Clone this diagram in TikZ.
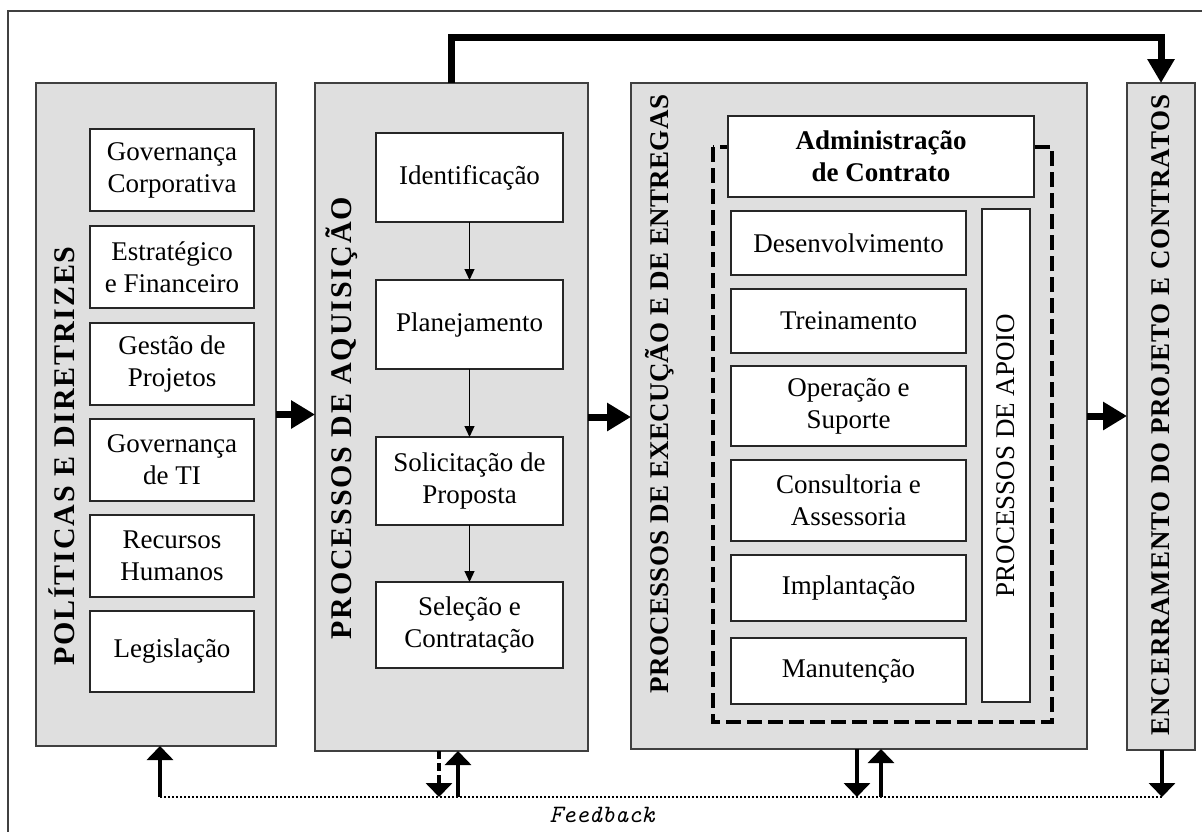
\documentclass[tikz,border=0pt]{standalone}
\usepackage{fontspec}
\setmainfont{Liberation Serif}
\usetikzlibrary{arrows.meta}
\definecolor{panelgray}{HTML}{DFDFDF}
\definecolor{edgegray}{HTML}{404040}
\newcommand\dgboxfont{\fontsize{27}{32}\selectfont}
\newcommand\dglabelA{\bfseries\fontsize{30}{32}\selectfont\addfontfeature{LetterSpace=6}}
\newcommand\dglabelB{\bfseries\fontsize{27}{30}\selectfont\addfontfeature{LetterSpace=3}}
\newcommand\dglabelD{\bfseries\fontsize{27}{30}\selectfont\addfontfeature{LetterSpace=1}}
\newcommand\rectnode[7]{\node[#1, minimum width={(#5-#3)*1pt}, minimum height={(#6-#4)*1pt}] (#2) at ({(#3+#5)/2},{(#4+#6)/2}) {#7};}
\tikzset{
  panel/.style={draw=edgegray, line width=1.5pt, fill=panelgray, inner sep=0pt, outer sep=0pt},
  ibox/.style={draw=black!85, line width=1.3pt, fill=white, inner sep=0pt, outer sep=0pt, align=center, font=\dgboxfont},
  bbox/.style={ibox, font=\dgboxfont\bfseries},
  vlabA/.style={rotate=90, inner sep=0pt, font=\dglabelA},
  vlabB/.style={rotate=90, inner sep=0pt, font=\dglabelB},
  vlabD/.style={rotate=90, inner sep=0pt, font=\dglabelD},
  vlabC/.style={rotate=90, inner sep=0pt, font=\dgboxfont},
  bigarrow/.style={line width=7pt, -{Triangle[length=24pt,width=27pt]}},
  toparrow/.style={line width=7pt, line join=miter, -{Triangle[length=24pt,width=26pt]}},
  thinarrow/.style={line width=1.2pt, -{Triangle[length=11pt,width=10pt]}},
  botarrow/.style={line width=4pt, -{Triangle[length=14pt,width=26pt]}},
  dashshaft/.style={dash pattern=on 8pt off 4pt},
  dotline/.style={line width=1.5pt, dash pattern=on 2pt off 2pt},
  dashbox/.style={line width=4pt, dash pattern=on 15pt off 6pt},
  frameline/.style={draw=edgegray, line width=1.5pt}
}
\begin{document}
\begin{tikzpicture}[x=1pt,y=-1pt]
\path[use as bounding box] (0,0) rectangle (1202,831);
\draw[frameline] (8,840) -- (8,11) -- (1210,11);

% panels
\rectnode{panel}{p1}{36}{83}{276}{746}{}
\rectnode{panel}{p2}{315}{83}{588}{751}{}
\rectnode{panel}{p3}{631}{83}{1087}{749}{}
\rectnode{panel}{p4}{1127}{83}{1195}{750}{}

% vertical labels
\node[vlabA] (l1) at (62,456) {POLÍTICAS E DIRETRIZES};
\node[vlabA] (l2) at (342,418) {PROCESSOS DE AQUISIÇÃO};
\node[vlabD] (l3) at (660,394) {PROCESSOS DE EXECUÇÃO E DE ENTREGAS};
\node[vlabB] (l4) at (1161,415) {ENCERRAMENTO DO PROJETO E CONTRATOS};

% panel 1 boxes
\rectnode{ibox}{gc}{90}{129}{254}{211}{Governança\\Corporativa}
\rectnode{ibox}{ef}{90}{226}{254}{308}{Estratégico\\e Financeiro}
\rectnode{ibox}{gp}{90}{323}{254}{405}{Gestão de\\Projetos}
\rectnode{ibox}{gt}{90}{419}{254}{501}{Governança\\de TI}
\rectnode{ibox}{rh}{90}{515}{254}{597}{Recursos\\Humanos}
\rectnode{ibox}{lg}{90}{611}{254}{692}{Legislação}

% panel 2 boxes
\rectnode{ibox}{id}{376}{133}{563}{222}{Identificação}
\rectnode{ibox}{pl}{376}{280}{563}{369}{Planejamento}
\rectnode{ibox}{sp}{376}{437}{563}{525}{Solicitação de\\Proposta}
\rectnode{ibox}{sc}{376}{582}{563}{668}{Seleção e\\Contratação}
\draw[thinarrow] (id.south) -- (pl.north);
\draw[thinarrow] (pl.south) -- (sp.north);
\draw[thinarrow] (sp.south) -- (sc.north);

% panel 3
\draw[dashbox] (713,147) rectangle (1052,722);
\rectnode{bbox}{ac}{728}{116}{1034}{197}{Administração\\de Contrato}
\rectnode{ibox}{de}{731}{211}{966}{275}{Desenvolvimento}
\rectnode{ibox}{tr}{731}{289}{966}{353}{Treinamento}
\rectnode{ibox}{os}{731}{366}{966}{446}{Operação e\\Suporte}
\rectnode{ibox}{ca}{731}{460}{966}{541}{Consultoria e\\Assessoria}
\rectnode{ibox}{im}{731}{555}{966}{621}{Implantação}
\rectnode{ibox}{ma}{731}{638}{966}{704}{Manutenção}
\rectnode{ibox}{ap}{982}{209}{1030}{702}{}
\node[vlabC] (apl) at (ap.center) {PROCESSOS DE APOIO};

% arrows between panels
\draw[bigarrow] (p1.east) -- (p1.east -| p2.west);
\draw[bigarrow] (p2.east) -- (p2.east -| p3.west);
\draw[bigarrow] (p3.east) -- (p3.east -| p4.west);
\draw[toparrow] (p2.north) -- ++(0,-46) -| (p4.north);

% feedback
\coordinate (fbL) at (160,797);
\coordinate (fbR) at (1162,797);
\coordinate (f2d) at (439,797);
\coordinate (f2u) at (458,797);
\coordinate (f3d) at (857,797);
\coordinate (f3u) at (881,797);
\draw[dotline] (fbL) -- (fbR);
\draw[botarrow] (fbL) -- (fbL |- p1.south);
\draw[botarrow, dashshaft] (f2d |- p2.south) -- (f2d);
\draw[botarrow] (f2u) -- (f2u |- p2.south);
\draw[botarrow] (f3d |- p3.south) -- (f3d);
\draw[botarrow] (f3u) -- (f3u |- p3.south);
\draw[botarrow] (fbR |- p4.south) -- (fbR);
\node[font=\ttfamily\itshape\fontsize{25}{27}\selectfont, inner sep=0pt] (fb) at (602,815) {Feedback};
\end{tikzpicture}
\end{document}
